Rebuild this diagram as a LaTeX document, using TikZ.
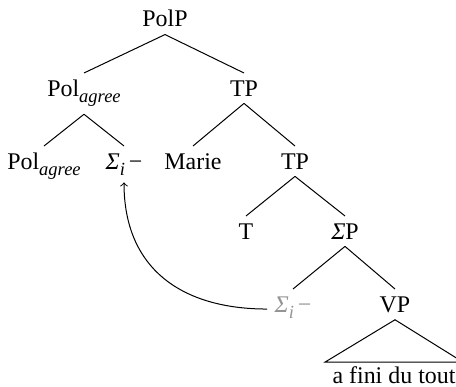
\documentclass[tikz,border=0pt]{standalone}
\usepackage{fontspec}
\setmainfont{Liberation Serif}
\newcommand\lsub[1]{\raisebox{-3pt}{\fontsize{9.3}{10}\selectfont\itshape #1}}
\begin{document}
\begin{tikzpicture}[x=0.5bp,y=-0.5bp,
  every node/.style={inner sep=3.5pt,font=\fontsize{12}{14}\selectfont},
  tn/.style={anchor=north},
  branch/.style={line width=0.5bp},
  trace/.style={text=black!42},
  mv/.style={->,line width=0.5bp,looseness=1.15}]
\useasboundingbox (0,0) rectangle (456,387);
\node[tn] (polp) at (165,3) {PolP};
\node[tn] (pola) at (84,73) {Pol\lsub{agree}};
\node[tn] (tp1) at (244,73) {TP};
\node[tn] (polb) at (44,146) {Pol\lsub{agree}};
\node[tn] (sig) at (124,146) {\textit{Σ}\lsub{i}\,−};
\node[tn] (marie) at (193,146) {Marie};
\node[tn] (tp2) at (295,146) {TP};
\node[tn] (t) at (246,216) {T};
\node[tn] (sp) at (345,216) {\textit{Σ}P};
\node[tn,trace] (sigt) at (293,289) {\textit{Σ}\lsub{i}\,−};
\node[tn] (vp) at (395,289) {VP};
\node[tn,inner ysep=2pt] (leaf) at (394,362) {a fini du tout};
\draw[branch] (polp.south) -- (pola.north);
\draw[branch] (polp.south) -- (tp1.north);
\draw[branch] (pola.south) -- (polb.north);
\draw[branch] (pola.south) -- (sig.north);
\draw[branch] (tp1.south) -- (marie.north);
\draw[branch] (tp1.south) -- (tp2.north);
\draw[branch] (tp2.south) -- (t.north);
\draw[branch] (tp2.south) -- (sp.north);
\draw[branch] (sp.south) -- (sigt.north);
\draw[branch] (sp.south) -- (vp.north);
\draw[branch] (vp.south) -- (leaf.north west) -- (leaf.north east) -- cycle;
\draw[mv] ([yshift=1.5pt]sigt.base west) to[out=180,in=-90] (sig.south);
\end{tikzpicture}
\end{document}
